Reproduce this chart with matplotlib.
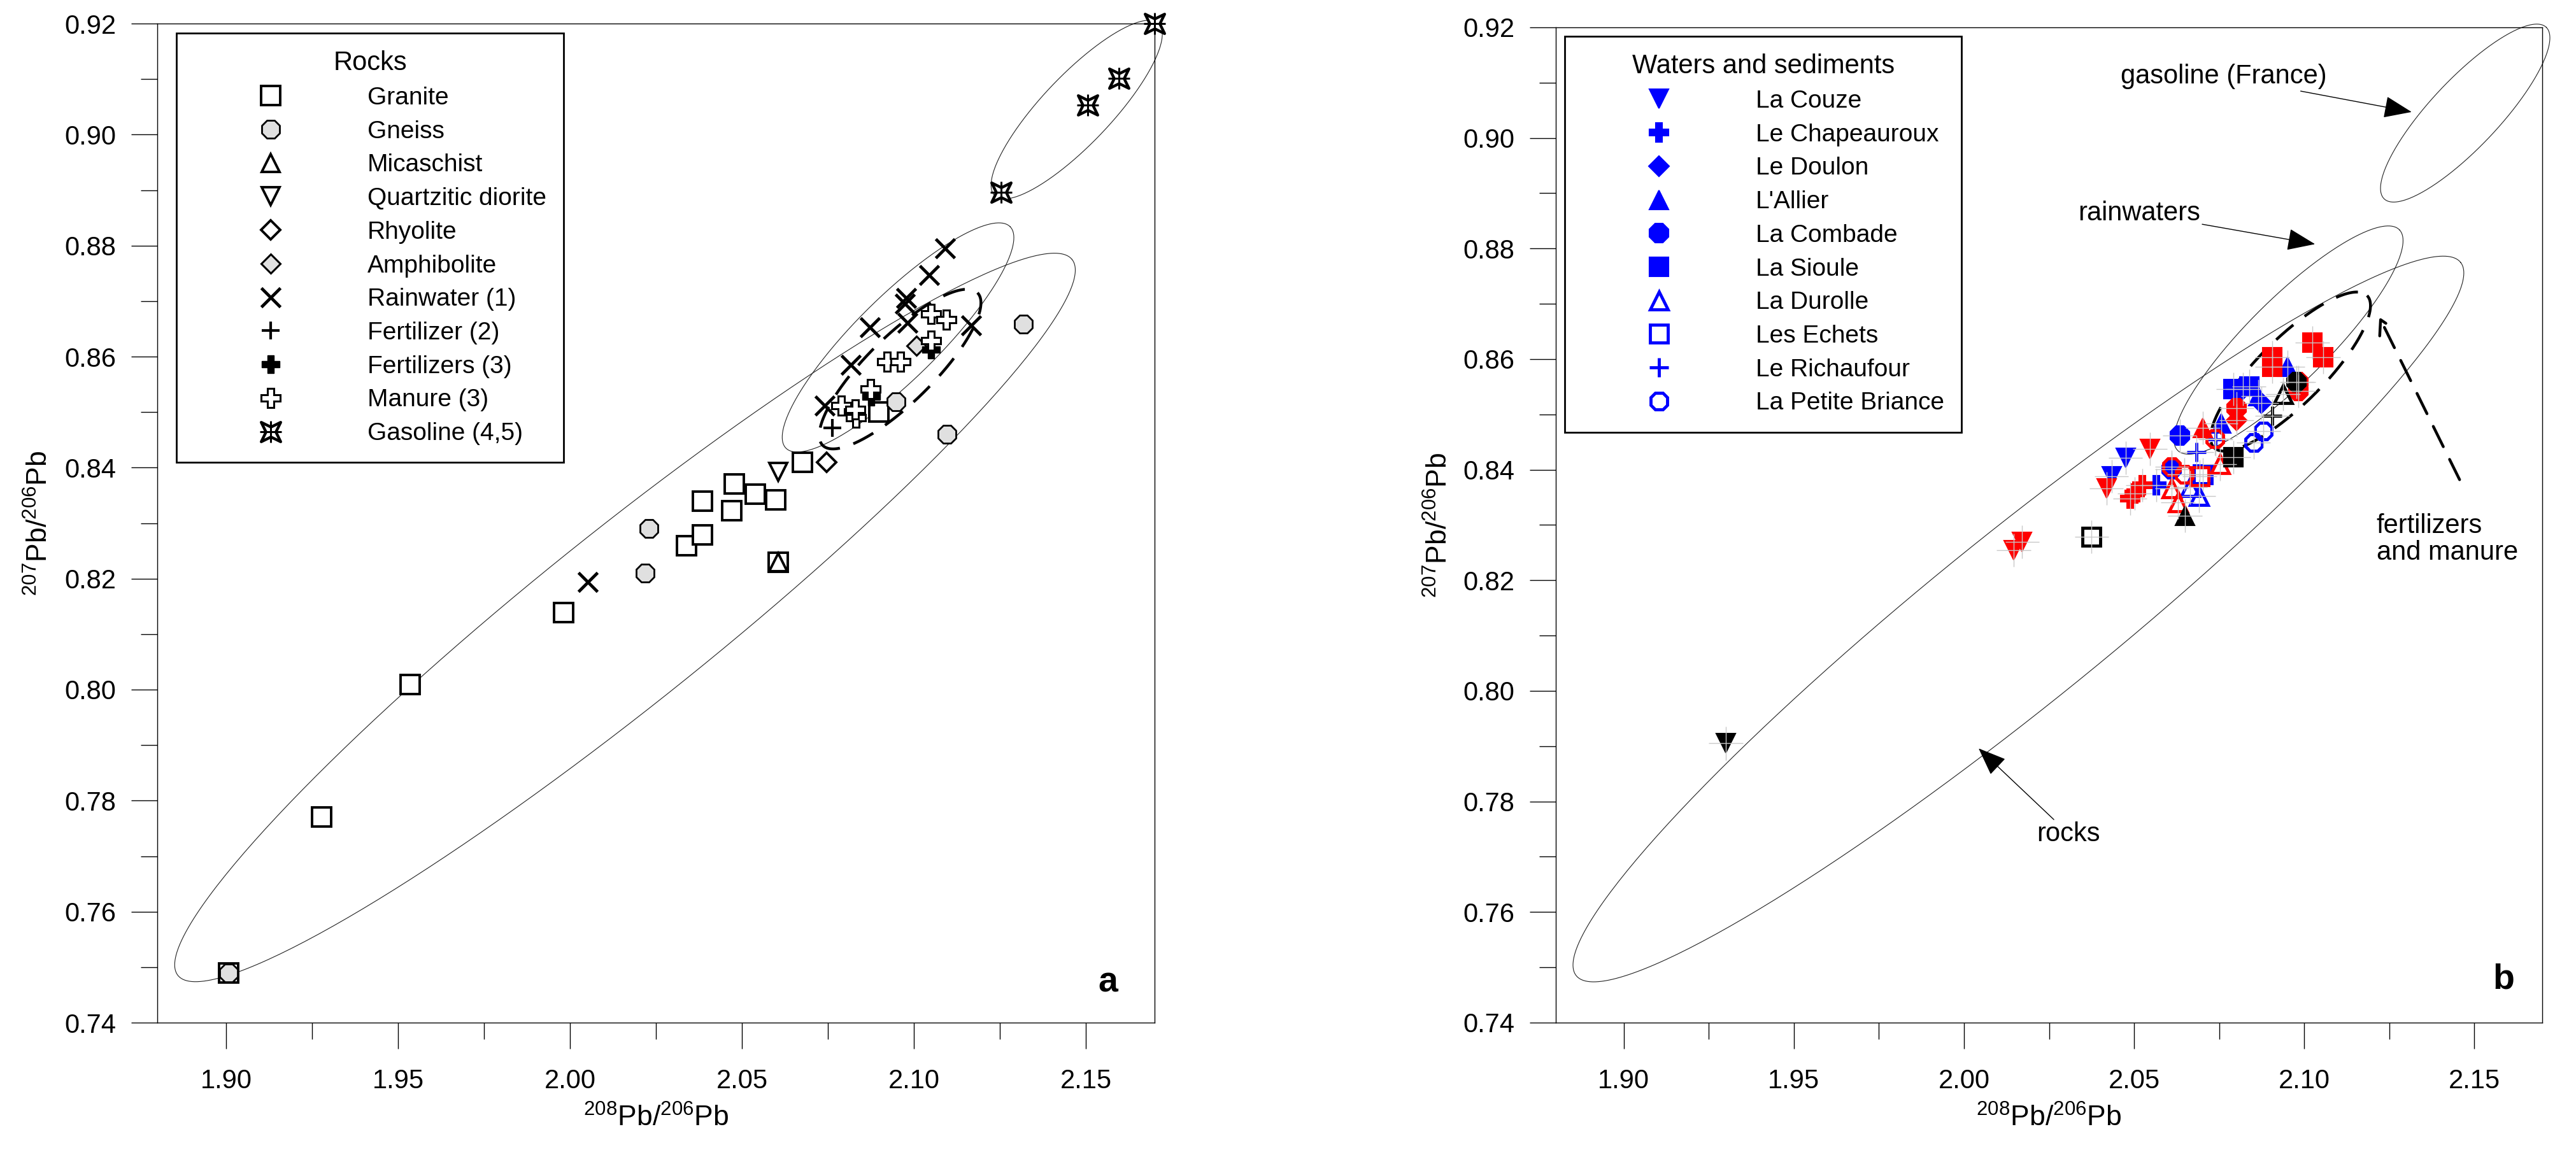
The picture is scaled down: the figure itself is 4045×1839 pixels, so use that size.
import numpy as np
import matplotlib
matplotlib.use('Agg')
import matplotlib.pyplot as plt
from matplotlib.lines import Line2D
from matplotlib.path import Path
from matplotlib.ticker import MultipleLocator, FormatStrFormatter
from matplotlib.legend_handler import HandlerTuple

plt.rcParams['font.family'] = ['Liberation Sans', 'DejaVu Sans']
plt.rcParams['mathtext.fontset'] = 'custom'
plt.rcParams['mathtext.rm'] = 'Liberation Sans'
plt.rcParams['mathtext.default'] = 'regular'

# ---------------- Panel a data ----------------
granite_x = [1.9007, 1.9278, 1.9535, 1.9981, 2.0339, 2.0385, 2.0385, 2.0470, 2.0478, 2.0539, 2.0598, 2.0605, 2.0676, 2.0898]
granite_y = [0.7490, 0.7770, 0.8009, 0.8139, 0.8259, 0.8279, 0.8340, 0.8322, 0.8371, 0.8352, 0.8342, 0.8229, 0.8410, 0.8500]
gneiss_x = [1.9007, 2.0219, 2.0230, 2.0948, 2.1096, 2.1319]
gneiss_y = [0.7490, 0.8210, 0.8290, 0.8519, 0.8460, 0.8659]
micaschist_x = [2.0605]
micaschist_y = [0.8229]
diorite_x = [2.0605]
diorite_y = [0.8392]
rhyolite_x = [2.0746]
rhyolite_y = [0.8409]
amphibolite_x = [2.1007]
amphibolite_y = [0.8620]
rainwater_x = [2.0052, 2.0741, 2.0817, 2.0872, 2.0974, 2.0978, 2.0981, 2.1044, 2.1090, 2.1167]
rainwater_y = [0.8194, 0.8512, 0.8585, 0.8653, 0.8695, 0.8706, 0.8661, 0.8747, 0.8795, 0.8656]
fert2_x = [2.0763]
fert2_y = [0.8471]
fert3_x = [2.0876, 2.1050]
fert3_y = [0.8528, 0.8613]
manure_x = [2.0832, 2.0789, 2.0830, 2.0874, 2.0922, 2.0961, 2.1050, 2.1050, 2.1094]
manure_y = [0.8490, 0.8512, 0.8505, 0.8541, 0.8591, 0.8591, 0.8629, 0.8677, 0.8666]
gasoline_x = [2.1254, 2.1506, 2.1596, 2.1700]
gasoline_y = [0.8896, 0.9053, 0.9101, 0.9200]

rock_labels = ['Granite', 'Gneiss', 'Micaschist', 'Quartzitic diorite', 'Rhyolite', 'Amphibolite',
               'Rainwater (1)', 'Fertilizer (2)', 'Fertilizers (3)', 'Manure (3)', 'Gasoline (4,5)']

# ---------------- Panel b data ----------------
rivers = ['La Couze', 'Le Chapeauroux', 'Le Doulon', "L'Allier", 'La Combade', 'La Sioule',
          'La Durolle', 'Les Echets', 'Le Richaufour', 'La Petite Briance']
blue_x = [[2.0475, 2.0434], [2.0566], [2.0874, 2.0820], [2.0951, 2.0865, 2.0756], [2.0634, 2.0611],
          [2.0792, 2.0838], [2.0665, 2.0690], [2.0702], [2.0684, 2.0740], [2.0851, 2.0880]]
blue_y = [[0.8421, 0.8388], [0.8372], [0.8520, 0.8546], [0.8586, 0.8533, 0.8484], [0.8462, 0.8401],
          [0.8546, 0.8551], [0.8368, 0.8352], [0.8392], [0.8432, 0.8455], [0.8449, 0.8470]]
red_x = [[2.0146, 2.0171, 2.0547, 2.0419], [2.0502, 2.0525, 2.0488], [2.0801], [2.0702],
         [2.0801, 2.0983, 2.0983], [2.0906, 2.0906, 2.1024, 2.1056], [2.0629, 2.0611, 2.0752],
         [2.0693], [], [2.0611, 2.0738, 2.0647]]
red_y = [[0.8255, 0.8269, 0.8438, 0.8366], [0.8357, 0.8372, 0.8348], [0.8489], [0.8476],
         [0.8511, 0.8559, 0.8542], [0.8603, 0.8586, 0.8630, 0.8603], [0.8341, 0.8366, 0.8410],
         [0.8388], [], [0.8405, 0.8456, 0.8392]]
black_x = [[1.9300], [], [], [2.0650], [2.0978], [2.0792], [2.0938], [2.0375], [2.0906], []]
black_y = [[0.7905], [], [], [0.8317], [0.8559], [0.8423], [0.8537], [0.8279], [0.8498], []]
err_x = 0.005
err_y = 0.003

# ellipses: (x_end1, y_end1, x_end2, y_end2, minor_dx, minor_dy)
ell_rocks = [1.886, 0.7485, 2.146, 0.8775, 0.0157, -0.0121]
ell_rain = [2.0628, 0.8435, 2.1280, 0.8834, 0.00846, -0.0053]
ell_fert = [2.0735, 0.8440, 2.1185, 0.8715, 0.0068, -0.00423]
ell_gas = [2.1235, 0.8890, 2.1712, 0.9200, 0.00714, -0.00433]


def ellipse_xy(p):
    x1, y1, x2, y2, vx, vy = p
    cx, cy = (x1 + x2) / 2, (y1 + y2) / 2
    ux, uy = (x2 - x1) / 2, (y2 - y1) / 2
    t = np.linspace(0, 2 * np.pi, 300)
    return cx + ux * np.cos(t) + vx * np.sin(t), cy + uy * np.cos(t) + vy * np.sin(t)


# 4-pointed star marker for gasoline
_ang = np.deg2rad(45 + np.arange(8) * 45)
_rad = np.where(np.arange(8) % 2 == 0, 1.0, 0.36)
_sv = np.column_stack([_rad * np.cos(_ang), _rad * np.sin(_ang)])
STAR = Path(np.vstack([_sv, _sv[:1]]), closed=True)

W, H = 4045, 1839
fig = plt.figure(figsize=(W / 100, H / 100), dpi=100)
axa = fig.add_axes([247 / W, 1 - 1606 / H, 1566 / W, 1569 / H])
axb = fig.add_axes([2443 / W, 1 - 1606 / H, 1549 / W, 1563 / H])

TICK_FS = 30
for ax in (axa, axb):
    ax.set_xlim(1.88, 2.17)
    ax.set_ylim(0.74, 0.92)
    ax.xaxis.set_major_locator(MultipleLocator(0.05))
    ax.xaxis.set_minor_locator(MultipleLocator(0.025))
    ax.yaxis.set_major_locator(MultipleLocator(0.02))
    ax.yaxis.set_minor_locator(MultipleLocator(0.01))
    ax.xaxis.set_major_formatter(FormatStrFormatter('%.2f'))
    ax.yaxis.set_major_formatter(FormatStrFormatter('%.2f'))
    ax.tick_params(which='both', direction='out', width=1.0, top=False, right=False)
    ax.tick_params(which='major', length=29.5, labelsize=TICK_FS)
    ax.tick_params(which='minor', length=19)
    ax.tick_params(axis='y', which='major', pad=17)
    ax.tick_params(axis='x', which='major', pad=22)
    for s in ax.spines.values():
        s.set_linewidth(1.0)
    ax.set_xlabel(r'$^{208}$Pb/$^{206}$Pb', fontsize=32)
    ax.set_ylabel(r'$^{207}$Pb/$^{206}$Pb', fontsize=32)
    ax.xaxis.set_label_coords(0.5, -0.082)
    ax.yaxis.set_label_coords(-0.104, 0.5)
    for e in (ell_rocks, ell_rain, ell_gas):
        ex, ey = ellipse_xy(e)
        ax.plot(ex, ey, color='#222222', lw=0.8, clip_on=False, zorder=1)
    ex, ey = ellipse_xy(ell_fert)
    ax.plot(ex, ey, color='black', lw=3.2, ls=(0, (8, 5)), clip_on=False, zorder=1)

# ---------------- Panel a ----------------
grey = '#e0e0e0'
kw = dict(ls='none', clip_on=False, zorder=3)
axa.plot(granite_x, granite_y, marker='s', ms=21, mfc='white', mec='black', mew=2.8, **kw)
axa.plot(gneiss_x, gneiss_y, marker='8', ms=22, mfc=grey, mec='black', mew=2.0, **kw)
axa.plot(micaschist_x, micaschist_y, marker='^', ms=20, mfc='none', mec='black', mew=2.8, **kw)
axa.plot(diorite_x, diorite_y, marker='v', ms=20, mfc='white', mec='black', mew=2.8, **kw)
axa.plot(rhyolite_x, rhyolite_y, marker='D', ms=15, mfc='white', mec='black', mew=2.8, **kw)
axa.plot(amphibolite_x, amphibolite_y, marker='D', ms=15, mfc=grey, mec='black', mew=2.2, **kw)
axa.plot(rainwater_x, rainwater_y, marker='x', ms=22, mec='black', mew=3.5, **kw)
axa.plot(fert2_x, fert2_y, marker='+', ms=20, mec='black', mew=3.0, **kw)
axa.plot(fert3_x, fert3_y, marker='P', ms=20, mfc='black', mec='black', mew=1.0, **kw)
axa.plot(manure_x, manure_y, marker='P', ms=21, mfc='white', mec='black', mew=2.2, **kw)
axa.plot(gasoline_x, gasoline_y, marker=STAR, ms=22, mfc='white', mec='black', mew=3.2, **kw)
axa.plot(gasoline_x, gasoline_y, marker='+', ms=24, mec='black', mew=2.2, **kw)

h_rock = [
    Line2D([], [], ls='none', marker='s', ms=21, mfc='white', mec='black', mew=2.8),
    Line2D([], [], ls='none', marker='8', ms=22, mfc=grey, mec='black', mew=2.0),
    Line2D([], [], ls='none', marker='^', ms=20, mfc='white', mec='black', mew=2.8),
    Line2D([], [], ls='none', marker='v', ms=20, mfc='white', mec='black', mew=2.8),
    Line2D([], [], ls='none', marker='D', ms=15, mfc='white', mec='black', mew=2.8),
    Line2D([], [], ls='none', marker='D', ms=15, mfc=grey, mec='black', mew=2.2),
    Line2D([], [], ls='none', marker='x', ms=22, mec='black', mew=3.5),
    Line2D([], [], ls='none', marker='+', ms=20, mec='black', mew=3.0),
    Line2D([], [], ls='none', marker='P', ms=20, mfc='black', mec='black', mew=1.0),
    Line2D([], [], ls='none', marker='P', ms=21, mfc='white', mec='black', mew=2.2),
    (Line2D([], [], ls='none', marker=STAR, ms=22, mfc='white', mec='black', mew=3.2),
     Line2D([], [], ls='none', marker='+', ms=24, mec='black', mew=2.2)),
]
LEG = dict(loc='upper left', frameon=True, fancybox=False, framealpha=1, edgecolor='black',
           fontsize=28, title_fontsize=30, numpoints=1, handlelength=6.22, handletextpad=0.8,
           labelspacing=0.43, borderpad=0.7, borderaxespad=0.0,
           handler_map={tuple: HandlerTuple(ndivide=1, pad=0)})
lg = axa.legend(h_rock, rock_labels, title='Rocks', bbox_to_anchor=((277 - 247) / 1566, (1606 - 52) / 1569), **LEG)
lg.get_frame().set_linewidth(2.0)

axa.text(0.953, 0.04, 'a', transform=axa.transAxes, fontsize=40, fontweight='bold', ha='center', va='center')

# ---------------- Panel b ----------------
river_marker = ['v', 'P', 'D', '^', '8', 's', '^', 's', '+', '8']
river_filled = [True, True, True, True, True, True, False, False, True, False]
river_ms = [22, 22, 16, 22, 23, 22, 22, 22, 22, 23]


def draw_series(ax, xs, ys, color, zo):
    for i in range(len(rivers)):
        if len(xs[i]) == 0:
            continue
        if river_marker[i] == '+':
            ax.plot(xs[i], ys[i], ls='none', marker='+', ms=river_ms[i], mec=color, mew=3.5, zorder=zo)
        elif river_filled[i]:
            ax.plot(xs[i], ys[i], ls='none', marker=river_marker[i], ms=river_ms[i], mfc=color, mec=color, mew=1.5, zorder=zo)
        else:
            ax.plot(xs[i], ys[i], ls='none', marker=river_marker[i], ms=river_ms[i] - 2, mfc='none', mec=color, mew=3.5, zorder=zo)


draw_series(axb, blue_x, blue_y, '#0000ff', 3)
draw_series(axb, red_x, red_y, '#ff0000', 4)
draw_series(axb, black_x, black_y, 'black', 5)
for xs, ys in ((blue_x, blue_y), (red_x, red_y), (black_x, black_y)):
    for i in range(len(rivers)):
        if len(xs[i]) == 0:
            continue
        axb.errorbar(xs[i], ys[i], xerr=err_x, yerr=err_y, fmt='none', ecolor='#c8c8c8', elinewidth=1.0, zorder=6)

h_riv = []
for i in range(len(rivers)):
    if river_marker[i] == '+':
        h_riv.append(Line2D([], [], ls='none', marker='+', ms=river_ms[i], mec='#0000ff', mew=3.5))
    elif river_filled[i]:
        h_riv.append(Line2D([], [], ls='none', marker=river_marker[i], ms=river_ms[i], mfc='#0000ff', mec='#0000ff', mew=1.5))
    else:
        h_riv.append(Line2D([], [], ls='none', marker=river_marker[i], ms=river_ms[i] - 2, mfc='none', mec='#0000ff', mew=3.5))
lgb = axb.legend(h_riv, rivers, title='Waters and sediments', bbox_to_anchor=((2457 - 2443) / 1549, (1606 - 57) / 1563), **LEG)
lgb.get_frame().set_linewidth(2.0)

ANN = 30
arr = dict(arrowstyle='-|>,head_length=1.4,head_width=0.55', color='black', lw=1.0, shrinkA=0, shrinkB=0, mutation_scale=20)
axb.annotate('gasoline (France)', xy=(2.1316, 0.9047), xytext=(2.1066, 0.9111), fontsize=ANN,
             ha='right', va='center', arrowprops=arr)
axb.annotate('rainwaters', xy=(2.1032, 0.8808), xytext=(2.0695, 0.8864), fontsize=ANN,
             ha='right', va='center', arrowprops=arr)
axb.annotate('rocks', xy=(2.0043, 0.7896), xytext=(2.0307, 0.7741), fontsize=ANN,
             ha='center', va='center', arrowprops=dict(arr, relpos=(0.3, 1.0)))
axb.text(2.1213, 0.8274, 'fertilizers\nand manure', fontsize=ANN, ha='left', va='center', linespacing=1.05)
axb.annotate('', xy=(2.1221, 0.8676), xytext=(2.1457, 0.8382),
             arrowprops=dict(arrowstyle='->,head_length=0.8,head_width=0.45', color='black', lw=3.2,
                             ls=(0, (8, 5)), shrinkA=0, shrinkB=0, mutation_scale=20))
axb.text(0.961, 0.043, 'b', transform=axb.transAxes, fontsize=40, fontweight='bold', ha='center', va='center')

fig.savefig('out.png', dpi=100)
